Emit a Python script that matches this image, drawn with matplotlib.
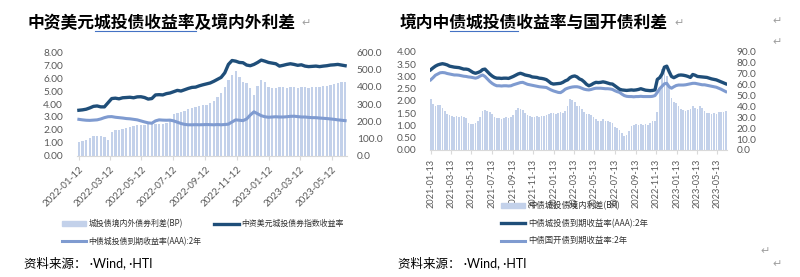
import numpy as np
import pandas as pd
import matplotlib
matplotlib.use('Agg')
import matplotlib.pyplot as plt
from matplotlib.lines import Line2D
from matplotlib.patches import Patch

plt.rcParams['font.family'] = ['Noto Sans CJK SC', 'DejaVu Sans']

# ── Data: left chart (weekly, from 2022-01-12) ────────────────────────────
L_START = '2022-01-12'
l_spread_bp = [80, 88, 95, 105, 115, 118, 115, 108, 92, 140,
               148, 152, 158, 163, 168, 172, 176, 178, 180, 182,
               184, 185, 186, 187, 188, 205, 240, 248, 255, 262,
               270, 276, 282, 288, 292, 296, 305, 320, 340, 365,
               400, 440, 470, 490, 455, 430, 420, 395, 352, 405,
               440, 430, 400, 395, 392, 398, 400, 395, 398, 396,
               392, 398, 400, 395, 398, 396, 400, 402, 405, 410,
               415, 420, 425, 428]
l_usd_yield = [3.52, 3.55, 3.60, 3.70, 3.82, 3.85, 3.78, 3.78, 4.10, 4.42,
               4.45, 4.40, 4.48, 4.50, 4.52, 4.48, 4.55, 4.56, 4.50, 4.38,
               4.42, 4.70, 4.72, 4.70, 4.80, 4.85, 4.95, 5.05, 5.00, 5.10,
               5.20, 5.28, 5.30, 5.40, 5.48, 5.55, 5.62, 5.75, 5.90, 6.05,
               6.40, 7.05, 7.35, 7.30, 7.20, 7.18, 7.00, 6.95, 7.05, 7.20,
               7.38, 7.30, 7.20, 7.15, 7.10, 6.92, 6.98, 7.05, 7.10, 7.05,
               6.98, 7.02, 6.92, 6.88, 6.90, 6.92, 6.88, 6.92, 6.95, 7.00,
               7.02, 7.05, 7.00, 6.95]
l_aaa_2y = [2.82, 2.78, 2.75, 2.74, 2.76, 2.78, 2.85, 2.95, 3.02, 3.03,
            2.98, 2.95, 2.92, 2.88, 2.86, 2.82, 2.78, 2.70, 2.62, 2.55,
            2.52, 2.70, 2.78, 2.76, 2.75, 2.76, 2.70, 2.60, 2.50, 2.43,
            2.40, 2.40, 2.41, 2.40, 2.41, 2.42, 2.41, 2.40, 2.42, 2.40,
            2.42, 2.45, 2.62, 2.78, 2.75, 2.72, 2.85, 3.15, 3.40, 3.25,
            3.10, 3.02, 2.98, 3.00, 3.02, 3.00, 3.00, 3.02, 3.05, 3.06,
            3.03, 3.00, 3.00, 2.97, 2.95, 2.95, 2.92, 2.90, 2.88, 2.85,
            2.82, 2.78, 2.75, 2.72]
l_ticks = ['2022-01-12', '2022-03-12', '2022-05-12', '2022-07-12', '2022-09-12',
           '2022-11-12', '2023-01-12', '2023-03-12', '2023-05-12']

# ── Data: right chart (weekly, from 2021-01-13) ───────────────────────────
R_START = '2021-01-13'
r_spread_bp = [47, 42, 40, 41, 41, 39, 36, 33, 32, 31,
               30, 31, 30, 31, 30, 29, 25, 24, 24, 25,
               27, 30, 36, 37, 36, 35, 33, 30, 29, 29,
               28, 29, 30, 29, 30, 32, 37, 39, 38, 37,
               34, 32, 31, 30, 30, 31, 30, 31, 31, 32,
               33, 34, 34, 33, 34, 35, 34, 36, 40, 47,
               46, 44, 40, 40, 38, 35, 33, 33, 32, 30,
               28, 27, 27, 28, 27, 27, 26, 25, 21, 20,
               18, 16, 13, 14, 17, 22, 23, 24, 23, 24,
               23, 24, 23, 25, 27, 27, 35, 55, 74, 76,
               68, 58, 48, 44, 43, 40, 38, 37, 36, 37,
               38, 40, 39, 38, 40, 39, 36, 34, 34, 33,
               34, 33, 35, 35, 35, 36]
r_aaa_2y = [3.27, 3.35, 3.42, 3.47, 3.50, 3.52, 3.50, 3.47, 3.42, 3.40,
            3.38, 3.37, 3.36, 3.33, 3.30, 3.30, 3.28, 3.22, 3.16, 3.13,
            3.16, 3.20, 3.28, 3.30, 3.20, 3.10, 3.02, 2.96, 2.93, 2.93,
            2.92, 2.93, 2.93, 2.92, 2.96, 3.00, 3.05, 3.10, 3.13, 3.10,
            3.06, 3.04, 3.02, 2.98, 2.97, 2.96, 2.93, 2.92, 2.90, 2.87,
            2.80, 2.72, 2.69, 2.70, 2.71, 2.72, 2.76, 2.82, 2.86, 2.95,
            3.00, 3.02, 2.98, 2.90, 2.86, 2.78, 2.68, 2.62, 2.66, 2.72,
            2.76, 2.75, 2.76, 2.78, 2.76, 2.73, 2.70, 2.69, 2.62, 2.55,
            2.48, 2.45, 2.44, 2.43, 2.44, 2.45, 2.44, 2.45, 2.47, 2.50,
            2.47, 2.44, 2.43, 2.42, 2.43, 2.45, 2.88, 2.95, 3.10, 3.38,
            3.42, 3.20, 3.00, 2.95, 3.00, 3.05, 3.06, 3.05, 3.03, 3.00,
            2.96, 3.08, 3.05, 3.00, 2.99, 2.98, 2.97, 2.96, 2.93, 2.90,
            2.88, 2.86, 2.82, 2.78, 2.74, 2.70]
r_cdb_2y = [2.86, 2.95, 3.05, 3.10, 3.15, 3.16, 3.15, 3.12, 3.10, 3.08,
            3.06, 3.06, 3.05, 3.03, 3.01, 3.00, 2.98, 2.97, 2.95, 2.93,
            2.96, 3.02, 3.06, 3.00, 2.90, 2.80, 2.72, 2.66, 2.62, 2.62,
            2.61, 2.62, 2.62, 2.61, 2.62, 2.66, 2.69, 2.72, 2.75, 2.76,
            2.72, 2.68, 2.66, 2.64, 2.62, 2.60, 2.58, 2.57, 2.56, 2.55,
            2.50, 2.45, 2.41, 2.38, 2.35, 2.34, 2.40, 2.48, 2.52, 2.55,
            2.57, 2.58, 2.58, 2.56, 2.52, 2.48, 2.46, 2.45, 2.47, 2.50,
            2.52, 2.52, 2.52, 2.51, 2.50, 2.50, 2.49, 2.47, 2.42, 2.38,
            2.35, 2.28, 2.22, 2.19, 2.18, 2.18, 2.17, 2.18, 2.18, 2.19,
            2.18, 2.18, 2.18, 2.18, 2.19, 2.22, 2.35, 2.50, 2.60, 2.70,
            2.72, 2.58, 2.52, 2.58, 2.63, 2.65, 2.65, 2.65, 2.66, 2.68,
            2.70, 2.72, 2.72, 2.70, 2.68, 2.66, 2.66, 2.64, 2.62, 2.60,
            2.58, 2.56, 2.52, 2.48, 2.43, 2.38]
r_ticks = ['2021-01-13', '2021-03-13', '2021-05-13', '2021-07-13', '2021-09-13',
           '2021-11-13', '2022-01-13', '2022-03-13', '2022-05-13', '2022-07-13',
           '2022-09-13', '2022-11-13', '2023-01-13', '2023-03-13', '2023-05-13']

# ── Style ─────────────────────────────────────────────────────────────────
BAR_C = '#c3d1ea'
DARK_C = '#1f4e79'
LIGHT_C = '#7f9bd0'
TICK_C = '#595959'
NUM_FONT = ['Lato', 'DejaVu Sans']
CJK = ['Noto Sans CJK SC', 'DejaVu Sans']
SRC_FONT = ['Lato', 'Noto Sans CJK SC', 'DejaVu Sans']


def style_axes(ax, ax2, left_fmt, right_fmt, ylim_l, ylim_r, step_l, step_r):
    ax.set_ylim(*ylim_l)
    ax2.set_ylim(*ylim_r)
    ax.set_yticks(np.arange(ylim_l[0], ylim_l[1] + 1e-9, step_l))
    ax2.set_yticks(np.arange(ylim_r[0], ylim_r[1] + 1e-9, step_r))
    ax.set_yticklabels([left_fmt % v for v in ax.get_yticks()], family=NUM_FONT, fontsize=7.3, color=TICK_C)
    ax2.set_yticklabels([right_fmt % v for v in ax2.get_yticks()], family=NUM_FONT, fontsize=7.3, color=TICK_C)
    for a in (ax, ax2):
        for s in a.spines.values():
            s.set_visible(False)
        a.tick_params(axis='y', length=0)
    ax.tick_params(axis='y', pad=10)
    ax2.tick_params(axis='y', pad=7)
    ax.spines['bottom'].set_visible(True)
    ax.spines['bottom'].set_color('#d9d9d9')
    ax.tick_params(axis='x', length=3, color='#d9d9d9', labelcolor=TICK_C)
    # lines above bars
    ax.set_zorder(ax2.get_zorder() + 1)
    ax.patch.set_visible(False)


fig = plt.figure(figsize=(8, 2.77), dpi=100)

# ── Left chart ────────────────────────────────────────────────────────────
l_dates = pd.date_range(L_START, periods=len(l_usd_yield), freq='7D')
axL = fig.add_axes([0.096, 0.437, 0.338, 0.375])
axL2 = axL.twinx()
axL2.bar(l_dates, l_spread_bp, width=4.5, color=BAR_C, linewidth=0)
axL.plot(l_dates, l_aaa_2y, color=LIGHT_C, lw=2.2)
axL.plot(l_dates, l_usd_yield, color=DARK_C, lw=2.4)
axL.set_xlim(pd.Timestamp('2022-01-08'), pd.Timestamp('2023-06-11'))
style_axes(axL, axL2, '%.2f', '%.1f', (0, 8), (0, 600), 1, 100)
axL.set_xticks(pd.to_datetime(l_ticks))
axL.set_xticklabels(l_ticks, rotation=45, ha='right', rotation_mode='anchor',
                    family=NUM_FONT, fontsize=7)

fig.legend(handles=[Patch(color=BAR_C, label='城投债境内外债券利差(BP)'),
                    Line2D([], [], color=LIGHT_C, lw=2.2, label='中债城投债到期收益率(AAA):2年'),
                    Line2D([], [], color=DARK_C, lw=2.4, label='中资美元城投债券指数收益率')],
           ncol=2, loc='upper left', bbox_to_anchor=(0.068, 0.235), frameon=False,
           prop={'family': CJK, 'size': 5.7}, handlelength=3.1, handleheight=0.5,
           columnspacing=1.6, handletextpad=0.3, labelspacing=1.1, labelcolor='#333333')

# ── Right chart ───────────────────────────────────────────────────────────
r_dates = pd.date_range(R_START, periods=len(r_aaa_2y), freq='7D')
axR = fig.add_axes([0.5375, 0.4585, 0.371, 0.354])
axR2 = axR.twinx()
axR2.bar(r_dates, r_spread_bp, width=5, color=BAR_C, linewidth=0)
axR.plot(r_dates, r_cdb_2y, color=LIGHT_C, lw=2.2)
axR.plot(r_dates, r_aaa_2y, color=DARK_C, lw=2.4)
axR.set_xlim(pd.Timestamp('2021-01-11'), pd.Timestamp('2023-06-10'))
style_axes(axR, axR2, '%.2f', '%.1f', (0, 4), (0, 90), 0.5, 10)
axR.set_xticks(pd.to_datetime(r_ticks))
axR.set_xticklabels(r_ticks, rotation=90, family=NUM_FONT, fontsize=6.6)

fig.legend(handles=[Patch(color=BAR_C, label='中债城投债境内利差(BP)'),
                    Line2D([], [], color=DARK_C, lw=2.4, label='中债城投债到期收益率(AAA):2年'),
                    Line2D([], [], color=LIGHT_C, lw=2.2, label='中债国开债到期收益率:2年')],
           ncol=1, loc='upper left', bbox_to_anchor=(0.617, 0.3), frameon=False,
           prop={'family': CJK, 'size': 6}, handlelength=2.9, handleheight=0.5,
           handletextpad=0.3, labelspacing=1.0, labelcolor='#333333')

# ── Titles, source lines and document marks ───────────────────────────────
fig.text(0.035, 0.917, '中资美元城投债收益率及境内外利差', fontsize=12.1, weight='bold',
         family=CJK, va='center')
fig.text(0.5, 0.917, '境内中债城投债收益率与国开债利差', fontsize=12.1, weight='bold',
         family=CJK, va='center')
fig.add_artist(Line2D([0.119, 0.245], [0.887, 0.887], color='#4472c4', lw=0.8))
fig.add_artist(Line2D([0.562, 0.647], [0.887, 0.887], color='#4472c4', lw=0.8))
for xx in (0.377, 0.843):
    fig.text(xx, 0.917, '↵', fontsize=8, color='#a0a0a0', va='center')
fig.text(0.03, 0.05, '资料来源： ·Wind, ·HTI', fontsize=9, family=SRC_FONT, va='center')
fig.text(0.497, 0.05, '资料来源： ·Wind, ·HTI', fontsize=9, family=SRC_FONT, va='center')
for xx, yy in ((0.966, 0.922), (0.966, 0.848), (0.951, 0.095), (0.966, 0.045)):
    fig.text(xx, yy, '↵', fontsize=8, color='#a0a0a0', va='center')

fig.savefig('out.png', dpi=100)
